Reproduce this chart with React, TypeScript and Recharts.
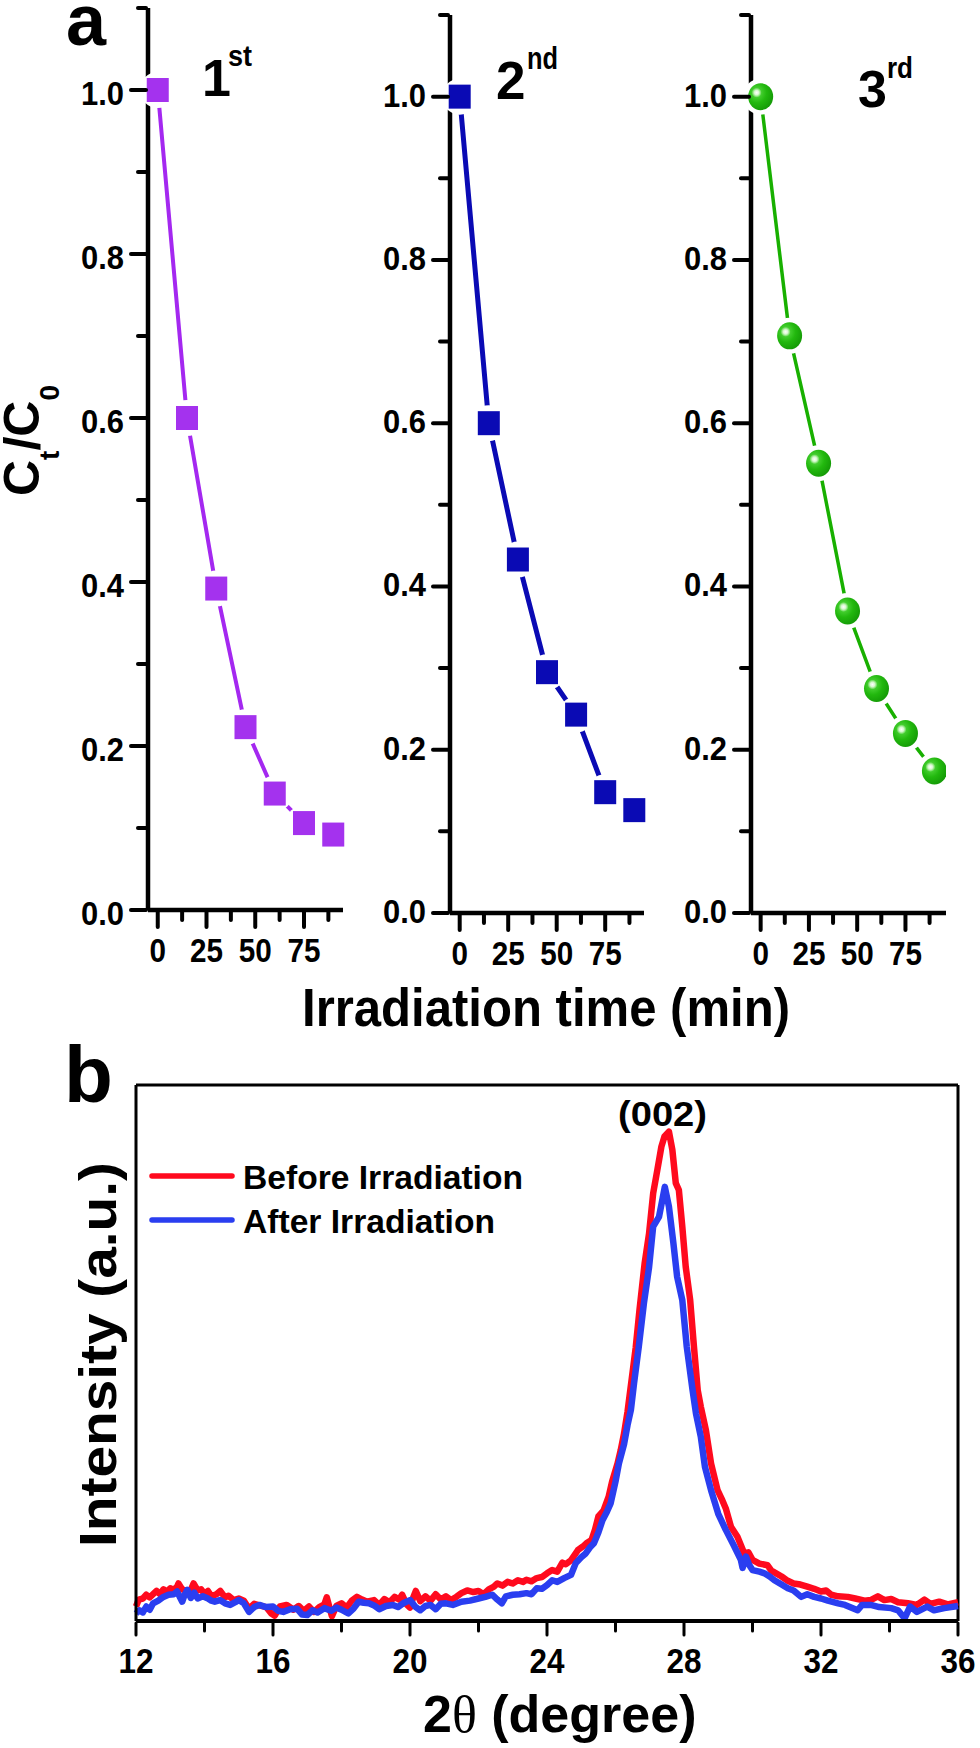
import { LineChart, Line, XAxis, YAxis, ReferenceLine } from 'recharts';

// panel a: degradation runs
const timeMin = [0, 15, 30, 45, 60, 75, 90];
const firstRun = [1.0, 0.6, 0.392, 0.223, 0.142, 0.106, 0.092];
const secondRun = [1.0, 0.6, 0.433, 0.295, 0.243, 0.148, 0.126];
const thirdRun = [1.0, 0.707, 0.551, 0.37, 0.275, 0.22, 0.174];

const timeTicks = [0, 12.5, 25, 37.5, 50, 62.5, 75, 87.5];
const timeLabels = [0, 25, 50, 75];
const ratioTicks = [0, 0.1, 0.2, 0.3, 0.4, 0.5, 0.6, 0.7, 0.8, 0.9, 1.0, 1.1];
const ratioLabels = [0, 0.2, 0.4, 0.6, 0.8, 1.0];

// panel b: XRD traces
const beforeTheta = [12.0, 12.08, 12.2, 12.3, 12.4, 12.5, 12.6, 12.7, 12.8, 12.9, 13.0, 13.1, 13.2, 13.24, 13.35, 13.5, 13.6, 13.68, 13.8, 13.9, 14.0, 14.1, 14.2, 14.35, 14.46, 14.6, 14.7, 14.85, 15.0, 15.15, 15.3, 15.45, 15.6, 15.8, 15.95, 16.05, 16.2, 16.4, 16.6, 16.75, 16.9, 17.05, 17.2, 17.35, 17.5, 17.57, 17.65, 17.72, 17.85, 18.0, 18.15, 18.3, 18.45, 18.6, 18.75, 18.95, 19.1, 19.25, 19.4, 19.55, 19.68, 19.77, 19.9, 20.0, 20.1, 20.17, 20.3, 20.45, 20.6, 20.75, 20.9, 21.05, 21.2, 21.35, 21.5, 21.67, 21.85, 22.0, 22.15, 22.3, 22.45, 22.55, 22.7, 22.85, 23.0, 23.15, 23.3, 23.4, 23.55, 23.7, 23.85, 24.0, 24.15, 24.3, 24.45, 24.55, 24.7, 24.9, 25.05, 25.15, 25.3, 25.4, 25.5, 25.65, 25.8, 25.9, 26.06, 26.15, 26.25, 26.35, 26.47, 26.59, 26.7, 26.85, 26.98, 27.1, 27.22, 27.34, 27.43, 27.56, 27.66, 27.76, 27.85, 27.95, 28.05, 28.18, 28.29, 28.4, 28.49, 28.64, 28.79, 28.98, 29.1, 29.22, 29.37, 29.56, 29.76, 29.88, 30.0, 30.2, 30.44, 30.55, 30.69, 30.85, 31.03, 31.2, 31.4, 31.6, 31.8, 32.0, 32.15, 32.3, 32.5, 32.78, 33.0, 33.27, 33.45, 33.66, 33.85, 34.05, 34.25, 34.54, 34.8, 35.02, 35.2, 35.45, 35.7, 36.0];
const beforeIntensity = [2.7, 4.0, 4.2, 4.9, 4.4, 5.0, 5.6, 5.0, 5.9, 5.5, 6.1, 5.8, 6.4, 7.0, 5.9, 5.6, 5.8, 7.0, 5.7, 5.9, 5.1, 5.6, 4.6, 5.0, 5.6, 4.4, 4.7, 3.9, 4.2, 3.8, 2.3, 3.2, 2.9, 2.6, 1.4, 1.0, 2.7, 3.0, 2.1, 2.8, 1.9, 2.7, 1.7, 2.6, 3.1, 4.4, 2.5, 0.9, 2.8, 3.3, 2.5, 3.8, 4.5, 4.0, 3.6, 3.9, 3.0, 4.1, 3.5, 4.5, 4.0, 4.9, 3.1, 2.5, 4.5, 5.6, 3.7, 4.6, 3.8, 5.0, 4.0, 4.6, 3.9, 4.5, 5.2, 5.7, 5.4, 5.6, 5.0, 5.9, 6.4, 7.0, 6.6, 7.3, 7.0, 7.6, 7.3, 7.7, 7.4, 8.0, 8.2, 8.9, 9.5, 9.2, 10.9, 10.6, 11.3, 13.2, 13.9, 14.5, 15.1, 17.0, 19.5, 20.6, 23.2, 26, 29.4, 31.8, 35, 39, 45, 51, 58, 66.7, 72.3, 79.8, 84.1, 88.5, 90.4, 91.3, 87.9, 81.7, 80.4, 73.6, 66.1, 59.9, 51.2, 43.1, 40, 35.6, 29.4, 24.4, 22.8, 21, 17.6, 15.7, 12.6, 12.8, 11.4, 10.7, 10.4, 9.4, 8.9, 8.3, 7.5, 7.0, 6.8, 6.4, 6.0, 5.5, 5.7, 4.9, 4.6, 4.5, 4.2, 3.8, 3.9, 4.6, 3.9, 4.1, 3.5, 3.3, 3.0, 4.0, 3.2, 3.6, 3.1, 3.5];
const afterTheta = [12.0, 12.1, 12.2, 12.3, 12.4, 12.5, 12.65, 12.8, 12.95, 13.1, 13.2, 13.35, 13.42, 13.5, 13.6, 13.7, 13.8, 13.95, 14.1, 14.2, 14.3, 14.45, 14.6, 14.75, 14.9, 15.0, 15.15, 15.3, 15.45, 15.6, 15.8, 16.0, 16.15, 16.3, 16.5, 16.7, 16.85, 17.0, 17.15, 17.3, 17.5, 17.7, 17.85, 18.0, 18.2, 18.35, 18.5, 18.65, 18.8, 18.95, 19.1, 19.3, 19.5, 19.65, 19.8, 20.0, 20.15, 20.3, 20.45, 20.6, 20.75, 20.9, 21.05, 21.25, 21.5, 21.75, 22.0, 22.2, 22.4, 22.55, 22.68, 22.8, 23.0, 23.2, 23.4, 23.55, 23.7, 23.85, 24.0, 24.15, 24.3, 24.5, 24.7, 24.84, 25.0, 25.13, 25.25, 25.37, 25.5, 25.62, 25.75, 25.86, 26.0, 26.1, 26.25, 26.35, 26.45, 26.54, 26.68, 26.83, 26.98, 27.1, 27.27, 27.38, 27.44, 27.56, 27.69, 27.8, 27.95, 28.08, 28.25, 28.35, 28.49, 28.61, 28.79, 29.0, 29.22, 29.47, 29.66, 29.71, 29.81, 29.9, 30.0, 30.2, 30.35, 30.5, 30.64, 30.85, 31.03, 31.2, 31.42, 31.6, 31.8, 32.0, 32.2, 32.5, 32.7, 33.07, 33.2, 33.45, 33.7, 34.05, 34.25, 34.44, 34.6, 34.8, 35.1, 35.3, 35.6, 36.0];
const afterIntensity = [1.4, 2.0, 1.6, 2.7, 2.1, 3.3, 3.8, 4.5, 4.9, 5.0, 5.5, 3.6, 4.9, 5.8, 4.3, 5.3, 4.2, 4.6, 4.2, 3.8, 3.6, 3.9, 3.3, 3.0, 3.5, 3.9, 3.3, 1.7, 2.6, 3.0, 2.6, 2.7, 1.9, 1.7, 2.2, 2.3, 1.2, 1.1, 2.0, 1.6, 2.4, 1.9, 2.5, 2.1, 1.4, 2.3, 3.6, 3.4, 3.3, 2.9, 2.2, 2.8, 3.0, 2.6, 3.3, 3.9, 2.7, 2.0, 2.8, 3.0, 2.2, 3.2, 3.3, 3.0, 3.6, 3.8, 4.2, 4.5, 4.9, 4.0, 3.3, 4.6, 4.9, 5.0, 5.2, 5.0, 6.1, 6.0, 6.7, 7.6, 7.3, 8.0, 8.6, 10.8, 11.9, 12.6, 13.7, 14.5, 16.5, 18.8, 20.4, 22, 26, 29.4, 33, 36.5, 39.4, 44.3, 51.2, 59.3, 66, 73.6, 75.4, 79, 81, 77.3, 70.5, 64.2, 59.9, 51.2, 43.1, 38.7, 34.4, 28.8, 24.4, 20, 17, 13.9, 11.4, 9.9, 12, 10.5, 9.5, 9.2, 8.9, 8.3, 7.6, 6.8, 6.1, 5.7, 4.5, 5.0, 4.5, 4.2, 3.8, 3.3, 3.0, 2.0, 3.0, 3.0, 2.6, 2.4, 2.0, 0.5, 2.7, 1.7, 2.7, 2.0, 2.4, 2.8];

const thetaTicks = [12, 14, 16, 18, 20, 22, 24, 26, 28, 30, 32, 34, 36];
const thetaLabels = [12, 16, 20, 24, 28, 32, 36];
const seriesNames = ['Before Irradiation', 'After Irradiation'];

const font = '"Liberation Sans", Arial, sans-serif';

const RatioTick = ({ x, y, payload, labelDy }: any) => {
    const major = ratioLabels.includes(payload.value);
    return (
        <g>
            <line x1={x} x2={x - (major ? 15 : 8)} y1={y} y2={y} stroke="#000" strokeWidth={4} strokeLinecap="round" />
            {major && (
                <text x={x - 22} y={y + labelDy} textAnchor="end" fontFamily={font} fontWeight="bold" fontSize={33} textLength={43} lengthAdjust="spacingAndGlyphs" fill="#000">
                    {payload.value.toFixed(1)}
                </text>
            )}
        </g>
    );
};

const TimeTick = ({ x, y, payload }: any) => {
    const major = timeLabels.includes(payload.value);
    return (
        <g>
            <line x1={x} x2={x} y1={y} y2={y + (major ? 15 : 8)} stroke="#000" strokeWidth={4} strokeLinecap="round" />
            {major && (
                <text x={x} y={y + 50} textAnchor="middle" fontFamily={font} fontWeight="bold" fontSize={33} textLength={String(payload.value).length * 16.5} lengthAdjust="spacingAndGlyphs" fill="#000">
                    {payload.value}
                </text>
            )}
        </g>
    );
};

const ThetaTick = ({ x, y, payload }: any) => {
    const major = thetaLabels.includes(payload.value);
    return (
        <g>
            <line x1={x} x2={x} y1={y} y2={y + (major ? 12 : 8)} stroke="#000" strokeWidth={3} strokeLinecap="round" />
            {major && (
                <text x={x} y={y + 50} textAnchor="middle" fontFamily={font} fontWeight="bold" fontSize={35} textLength={35} lengthAdjust="spacingAndGlyphs" fill="#000">
                    {payload.value}
                </text>
            )}
        </g>
    );
};

// white disc behind each point, gives the gap between line and symbol
const gapDot = ({ cx, cy, index }: any) => <circle key={index} cx={cx} cy={cy} r={18} fill="#fff" />;

const squareDot = (color: string) => ({ cx, cy, index }: any) => (
    <rect key={index} x={cx - 11} y={cy - 12} width={22} height={24} fill={color} />
);

const ballDot = ({ cx, cy, index }: any) => (
    <g key={index}>
        <ellipse cx={cx} cy={cy} rx={12.5} ry={13.5} fill="url(#ball)" />
        <circle cx={cx - 4} cy={cy - 4} r={5} fill="url(#shine)" />
    </g>
);

const toRows = (values: number[]) => values.map((v, i) => ({ t: timeMin[i], v }));
const toTrace = (theta: number[], values: number[]) => theta.map((t, i) => ({ t, v: values[i] }));

function RunPanel({ left, width, top, height, axisWidth, right, values, color, lineWidth, dot, tMax, labelDy }: any) {
    return (
        <div style={{ position: 'absolute', left, top: 0 }}>
            <LineChart
                width={width}
                height={height}
                data={toRows(values)}
                margin={{ top, right, left: 0, bottom: 0 }}
                style={{ position: 'static' }}
            >
                <defs>
                    <radialGradient id="ball" cx="35%" cy="35%" r="70%">
                        <stop offset="0%" stopColor="#5fe04a" />
                        <stop offset="55%" stopColor="#22b80e" />
                        <stop offset="100%" stopColor="#149a06" />
                    </radialGradient>
                    <radialGradient id="shine">
                        <stop offset="0%" stopColor="#ffffff" />
                        <stop offset="45%" stopColor="#d8f8d0" />
                        <stop offset="100%" stopColor="#d8f8d0" stopOpacity={0} />
                    </radialGradient>
                </defs>
                <Line
                    dataKey="v"
                    type="linear"
                    stroke={color}
                    strokeWidth={lineWidth}
                    dot={gapDot}
                    activeDot={false}
                    isAnimationActive={false}
                />
                <XAxis
                    dataKey="t"
                    type="number"
                    domain={[-5, tMax]}
                    ticks={timeTicks}
                    interval={0}
                    height={70}
                    tickSize={0}
                    tick={<TimeTick />}
                    axisLine={{ stroke: '#000', strokeWidth: 4.5 }}
                />
                <YAxis
                    dataKey="v"
                    type="number"
                    domain={[0, 1.1]}
                    ticks={ratioTicks}
                    interval={0}
                    width={axisWidth}
                    tickSize={0}
                    tick={<RatioTick labelDy={labelDy} />}
                    axisLine={{ stroke: '#000', strokeWidth: 4.5 }}
                />
                <Line
                    dataKey="v"
                    type="linear"
                    stroke="none"
                    dot={dot}
                    activeDot={false}
                    isAnimationActive={false}
                    zIndex={700}
                />
            </LineChart>
        </div>
    );
}

export default function App() {
    return (
        <div style={{ position: 'absolute', left: 0, top: 0, width: 980, height: 1748, background: '#fff', overflow: 'hidden' }}>
            <RunPanel left={0} width={348} height={980} top={8} axisWidth={148} right={5} values={firstRun} color="#a428f0" lineWidth={4} dot={squareDot('#a432ee')} tMax={95} labelDy={15} />
            <RunPanel left={350} width={300} height={983} top={15} axisWidth={100} right={6} values={secondRun} color="#0a0ab4" lineWidth={5} dot={squareDot('#0a0ab4')} tMax={95} labelDy={10} />
            <RunPanel left={650} width={296} height={983} top={15} axisWidth={101} right={0} values={thirdRun} color="#18b000" lineWidth={3.5} dot={ballDot} tMax={96} labelDy={10} />

            <div style={{ position: 'absolute', left: 0, top: 1060 }}>
                <LineChart width={980} height={688} margin={{ top: 25, right: 22, left: 0, bottom: 0 }} style={{ position: 'static' }}>
                    <XAxis
                        dataKey="t"
                        type="number"
                        domain={[12, 36]}
                        ticks={thetaTicks}
                        interval={0}
                        height={127}
                        tickSize={0}
                        tick={<ThetaTick />}
                        axisLine={{ stroke: '#000', strokeWidth: 4 }}
                        allowDuplicatedCategory={false}
                    />
                    <YAxis
                        type="number"
                        domain={[0, 100]}
                        width={136}
                        tick={false}
                        tickLine={false}
                        axisLine={{ stroke: '#000', strokeWidth: 3 }}
                    />
                    <ReferenceLine y={100} stroke="#000" strokeWidth={3} />
                    <ReferenceLine x={36} stroke="#000" strokeWidth={3} />
                    <Line
                        data={toTrace(beforeTheta, beforeIntensity)}
                        dataKey="v"
                        name={seriesNames[0]}
                        type="linear"
                        stroke="#ff0a1e"
                        strokeWidth={6.5}
                        strokeLinejoin="round"
                        dot={false}
                        activeDot={false}
                        isAnimationActive={false}
                    />
                    <Line
                        data={toTrace(afterTheta, afterIntensity)}
                        dataKey="v"
                        name={seriesNames[1]}
                        type="linear"
                        stroke="#2a3ef0"
                        strokeWidth={6.5}
                        strokeLinejoin="round"
                        dot={false}
                        activeDot={false}
                        isAnimationActive={false}
                    />
                </LineChart>
            </div>

            <svg width={980} height={1748} style={{ position: 'absolute', left: 0, top: 0, pointerEvents: 'none' }} fontFamily={font} fontWeight="bold" fill="#000">
                <text x={66} y={45} fontSize={72}>a</text>
                <text x={64} y={1102} fontSize={80}>b</text>

                <text x={202} y={96} fontSize={52}>1</text>
                <text x={228} y={66} fontSize={30} textLength={24} lengthAdjust="spacingAndGlyphs">st</text>
                <text x={496} y={99} fontSize={53}>2</text>
                <text x={527} y={69} fontSize={31} textLength={31} lengthAdjust="spacingAndGlyphs">nd</text>
                <text x={858} y={107} fontSize={52}>3</text>
                <text x={887} y={78} fontSize={30} textLength={26} lengthAdjust="spacingAndGlyphs">rd</text>

                <text transform="translate(39,496) rotate(-90)" fontSize={50}>
                    C<tspan fontSize={28} dy={20}>t</tspan><tspan dy={-20}>/C</tspan><tspan fontSize={28} dy={20}>0</tspan>
                </text>
                <text x={302} y={1026} fontSize={53} textLength={488} lengthAdjust="spacingAndGlyphs">Irradiation time (min)</text>

                <text x={618} y={1126} fontSize={35} textLength={89} lengthAdjust="spacingAndGlyphs">(002)</text>
                <line x1={152} x2={232} y1={1176} y2={1176} stroke="#ff0a1e" strokeWidth={5.5} strokeLinecap="round" />
                <text x={243} y={1189} fontSize={34} textLength={280} lengthAdjust="spacingAndGlyphs">{seriesNames[0]}</text>
                <line x1={152} x2={232} y1={1220} y2={1220} stroke="#2a3ef0" strokeWidth={5.5} strokeLinecap="round" />
                <text x={243} y={1233} fontSize={34} textLength={252} lengthAdjust="spacingAndGlyphs">{seriesNames[1]}</text>

                <text transform="translate(116,1547) rotate(-90)" fontSize={52} textLength={385} lengthAdjust="spacingAndGlyphs">Intensity (a.u.)</text>
                <text x={423} y={1732} fontSize={52}>
                    2<tspan fontFamily='"Liberation Serif", serif' fontWeight="normal">θ</tspan> (degree)
                </text>
            </svg>
        </div>
    );
}
